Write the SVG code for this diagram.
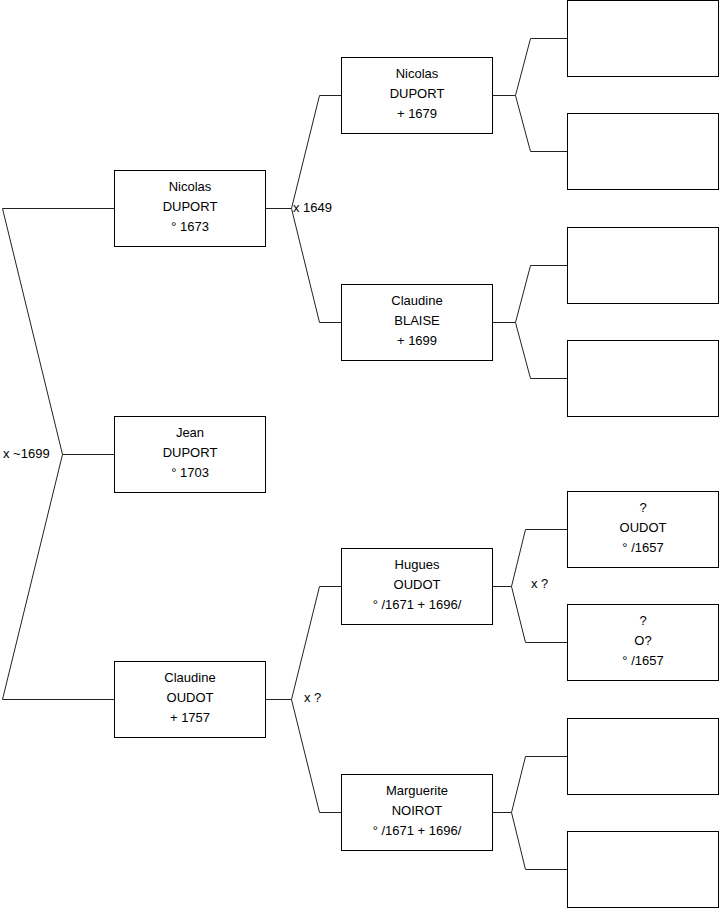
<svg xmlns="http://www.w3.org/2000/svg" width="719" height="908" viewBox="0 0 719 908">
<style>
.b{fill:#fff;stroke:#000;stroke-width:1}
.c{fill:none;stroke:#222;stroke-width:1}
text{font-family:"Liberation Sans",Arial,sans-serif;font-size:13px;fill:#000}
.m{text-anchor:middle}
</style>
<rect width="719" height="908" fill="#fff"/>
<g id="connectors" class="c">
<path d="M114.5,208.5H2.5L62.5,454.5L2.5,699.5H114.5M62.5,454.5H114.5"/>
<path d="M265.5,208.5H291.5L319.5,95.5H341.5M291.5,208.5L319.5,322.5H341.5"/>
<path d="M265.5,699.5H291.5L319.5,586.5H341.5M291.5,699.5L319.5,812.5H341.5"/>
<path d="M492.5,95.5H515.5L530.5,38.5H567.5M515.5,95.5L530.5,151.5H567.5"/>
<path d="M492.5,322.5H515.5L530.5,265.5H567.5M515.5,322.5L530.5,378.5H567.5"/>
<path d="M492.5,586.5H511.5L525.5,529.5H567.5M511.5,586.5L525.5,642.5H567.5"/>
<path d="M492.5,812.5H511.5L525.5,756.5H567.5M511.5,812.5L525.5,869.5H567.5"/>
</g>
<g id="labels">
<text x="3" y="458">x ~1699</text>
<text x="293" y="212">x 1649</text>
<text x="304" y="702">x ?</text>
<text x="531" y="588">x ?</text>
</g>
<g id="n1"><rect class="b" x="114.5" y="170.5" width="151" height="76"/><text class="m" x="190" y="191">Nicolas</text><text class="m" x="190" y="211">DUPORT</text><text class="m" x="190" y="231">° 1673</text></g>
<g id="n2"><rect class="b" x="114.5" y="416.5" width="151" height="76"/><text class="m" x="190" y="437">Jean</text><text class="m" x="190" y="457">DUPORT</text><text class="m" x="190" y="477">° 1703</text></g>
<g id="n3"><rect class="b" x="114.5" y="661.5" width="151" height="76"/><text class="m" x="190" y="682">Claudine</text><text class="m" x="190" y="702">OUDOT</text><text class="m" x="190" y="722">+ 1757</text></g>
<g id="n4"><rect class="b" x="341.5" y="57.5" width="151" height="76"/><text class="m" x="417" y="78">Nicolas</text><text class="m" x="417" y="98">DUPORT</text><text class="m" x="417" y="118">+ 1679</text></g>
<g id="n5"><rect class="b" x="341.5" y="284.5" width="151" height="76"/><text class="m" x="417" y="305">Claudine</text><text class="m" x="417" y="325">BLAISE</text><text class="m" x="417" y="345">+ 1699</text></g>
<g id="n6"><rect class="b" x="341.5" y="548.5" width="151" height="76"/><text class="m" x="417" y="569">Hugues</text><text class="m" x="417" y="589">OUDOT</text><text class="m" x="417" y="609">° /1671 + 1696/</text></g>
<g id="n7"><rect class="b" x="341.5" y="774.5" width="151" height="76"/><text class="m" x="417" y="795">Marguerite</text><text class="m" x="417" y="815">NOIROT</text><text class="m" x="417" y="835">° /1671 + 1696/</text></g>
<g id="n8"><rect class="b" x="567.5" y="0.5" width="151" height="76"/></g>
<g id="n9"><rect class="b" x="567.5" y="113.5" width="151" height="76"/></g>
<g id="n10"><rect class="b" x="567.5" y="227.5" width="151" height="76"/></g>
<g id="n11"><rect class="b" x="567.5" y="340.5" width="151" height="76"/></g>
<g id="n12"><rect class="b" x="567.5" y="491.5" width="151" height="76"/><text class="m" x="643" y="512">?</text><text class="m" x="643" y="532">OUDOT</text><text class="m" x="643" y="552">° /1657</text></g>
<g id="n13"><rect class="b" x="567.5" y="604.5" width="151" height="76"/><text class="m" x="643" y="625">?</text><text class="m" x="643" y="645">O?</text><text class="m" x="643" y="665">° /1657</text></g>
<g id="n14"><rect class="b" x="567.5" y="718.5" width="151" height="76"/></g>
<g id="n15"><rect class="b" x="567.5" y="831.5" width="151" height="76"/></g>
</svg>
